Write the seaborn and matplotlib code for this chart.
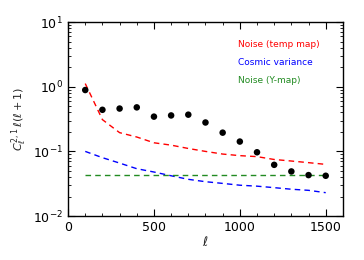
import matplotlib
matplotlib.use("Agg")
import matplotlib.pyplot as plt
import seaborn as sns
import pandas as pd
from matplotlib.ticker import MultipleLocator, LogLocator, NullFormatter

sns.set_style("ticks")
plt.rcParams['font.family'] = ['DejaVu Sans']

ell = [100, 200, 300, 400, 500, 600, 700, 800, 900, 1000, 1100, 1200, 1300, 1400, 1500]
signal = [0.89, 0.44, 0.46, 0.48, 0.345, 0.36, 0.37, 0.28, 0.195, 0.142, 0.097, 0.062, 0.049, 0.043, 0.042]
noise_temp = [1.12, 0.31, 0.195, 0.167, 0.136, 0.125, 0.111, 0.100, 0.091, 0.086, 0.083, 0.075, 0.071, 0.067, 0.063]
cosmic_var = [0.100, 0.080, 0.066, 0.054, 0.048, 0.042, 0.037, 0.034, 0.032, 0.030, 0.029, 0.0275, 0.026, 0.025, 0.023]
noise_y = [0.043] * 15

df = pd.DataFrame({"ell": ell, "signal": signal, "noise_temp": noise_temp,
                   "cosmic_var": cosmic_var, "noise_y": noise_y})

fig = plt.figure(figsize=(3.64, 2.6), dpi=100)
ax = fig.add_axes([0.187, 0.169, 0.755, 0.746])

sns.lineplot(data=df, x="ell", y="noise_temp", ax=ax, color="red", lw=1.0, dashes=False, linestyle=(0, (4, 3)))
sns.lineplot(data=df, x="ell", y="cosmic_var", ax=ax, color="blue", lw=1.0, linestyle=(0, (4, 3)))
sns.lineplot(data=df, x="ell", y="noise_y", ax=ax, color="#228B22", lw=1.0, linestyle=(0, (4, 3)))
sns.scatterplot(data=df, x="ell", y="signal", ax=ax, color="black", s=22, edgecolor="none", zorder=5)

ax.set_yscale("log")
ax.set_xlim(0, 1600)
ax.set_ylim(1e-2, 10)
ax.xaxis.set_major_locator(MultipleLocator(500))
ax.xaxis.set_minor_locator(MultipleLocator(100))
ax.yaxis.set_major_locator(LogLocator(base=10, numticks=10))
ax.yaxis.set_minor_locator(LogLocator(base=10, subs=range(2, 10), numticks=10))
ax.yaxis.set_minor_formatter(NullFormatter())
ax.tick_params(which="both", direction="in", top=True, right=True, labelsize=9, colors="black")
ax.tick_params(which="major", length=5, width=0.8)
ax.tick_params(which="minor", length=2.5, width=0.6)
for s in ax.spines.values():
    s.set_linewidth(1.0)
    s.set_color("black")

ax.set_xlabel(r"$\ell$", fontsize=9, labelpad=1)
ax.set_ylabel(r"$C_\ell^{2,1}\,\ell(\ell+1)$", fontsize=8, labelpad=2)

ax.text(0.62, 0.885, "Noise (temp map)", transform=ax.transAxes, color="red", fontsize=6.5, va="center")
ax.text(0.62, 0.79, "Cosmic variance", transform=ax.transAxes, color="blue", fontsize=6.5, va="center")
ax.text(0.62, 0.70, "Noise (Y-map)", transform=ax.transAxes, color="#228B22", fontsize=6.5, va="center")

fig.savefig("out.png", dpi=100)
